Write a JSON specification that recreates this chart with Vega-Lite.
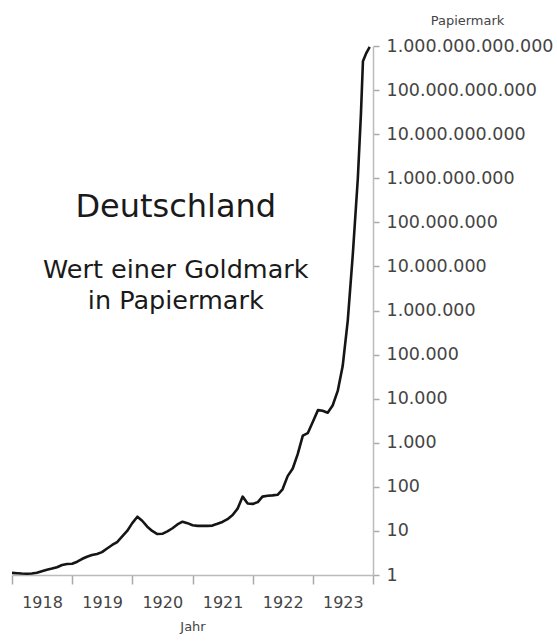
{
  "$schema": "https://vega.github.io/schema/vega-lite/v6.json",
  "autosize": "none",
  "width": 361,
  "height": 529,
  "padding": {"left": 12, "top": 46, "right": 184, "bottom": 66},
  "background": "white",
  "config": {"view": {"stroke": null}, "font": "DejaVu Sans"},
  "datasets": {
    "kurs": [
      {"datum": "1918-01-01", "wert": 1.12},
      {"datum": "1918-02-01", "wert": 1.10},
      {"datum": "1918-03-01", "wert": 1.08},
      {"datum": "1918-04-01", "wert": 1.07},
      {"datum": "1918-05-01", "wert": 1.08},
      {"datum": "1918-06-01", "wert": 1.13},
      {"datum": "1918-07-01", "wert": 1.22},
      {"datum": "1918-08-01", "wert": 1.32},
      {"datum": "1918-09-01", "wert": 1.40},
      {"datum": "1918-10-01", "wert": 1.50},
      {"datum": "1918-11-01", "wert": 1.68},
      {"datum": "1918-12-01", "wert": 1.78},
      {"datum": "1919-01-01", "wert": 1.80},
      {"datum": "1919-02-01", "wert": 2.0},
      {"datum": "1919-03-01", "wert": 2.3},
      {"datum": "1919-04-01", "wert": 2.6},
      {"datum": "1919-05-01", "wert": 2.85},
      {"datum": "1919-06-01", "wert": 3.0},
      {"datum": "1919-07-01", "wert": 3.3},
      {"datum": "1919-08-01", "wert": 4.0},
      {"datum": "1919-09-01", "wert": 4.8},
      {"datum": "1919-10-01", "wert": 5.6},
      {"datum": "1919-11-01", "wert": 7.5},
      {"datum": "1919-12-01", "wert": 10},
      {"datum": "1920-01-01", "wert": 15},
      {"datum": "1920-02-01", "wert": 21},
      {"datum": "1920-03-01", "wert": 17},
      {"datum": "1920-04-01", "wert": 12.5},
      {"datum": "1920-05-01", "wert": 10},
      {"datum": "1920-06-01", "wert": 8.5},
      {"datum": "1920-07-01", "wert": 8.6},
      {"datum": "1920-08-01", "wert": 9.8},
      {"datum": "1920-09-01", "wert": 11.5},
      {"datum": "1920-10-01", "wert": 14},
      {"datum": "1920-11-01", "wert": 16.2},
      {"datum": "1920-12-01", "wert": 15},
      {"datum": "1921-01-01", "wert": 13.5},
      {"datum": "1921-02-01", "wert": 13},
      {"datum": "1921-03-01", "wert": 13},
      {"datum": "1921-04-01", "wert": 13},
      {"datum": "1921-05-01", "wert": 13.2},
      {"datum": "1921-06-01", "wert": 14.5},
      {"datum": "1921-07-01", "wert": 16},
      {"datum": "1921-08-01", "wert": 18.5},
      {"datum": "1921-09-01", "wert": 23},
      {"datum": "1921-10-01", "wert": 32},
      {"datum": "1921-11-01", "wert": 60},
      {"datum": "1921-12-01", "wert": 42},
      {"datum": "1922-01-01", "wert": 41},
      {"datum": "1922-02-01", "wert": 45},
      {"datum": "1922-03-01", "wert": 60},
      {"datum": "1922-04-01", "wert": 63},
      {"datum": "1922-05-01", "wert": 64},
      {"datum": "1922-06-01", "wert": 66},
      {"datum": "1922-07-01", "wert": 88},
      {"datum": "1922-08-01", "wert": 175},
      {"datum": "1922-09-01", "wert": 260},
      {"datum": "1922-10-01", "wert": 550},
      {"datum": "1922-11-01", "wert": 1450},
      {"datum": "1922-12-01", "wert": 1650},
      {"datum": "1923-01-01", "wert": 3000},
      {"datum": "1923-02-01", "wert": 5500},
      {"datum": "1923-03-01", "wert": 5300},
      {"datum": "1923-04-01", "wert": 4800},
      {"datum": "1923-05-01", "wert": 7000},
      {"datum": "1923-06-01", "wert": 15000},
      {"datum": "1923-07-01", "wert": 55000},
      {"datum": "1923-08-01", "wert": 600000},
      {"datum": "1923-09-01", "wert": 20000000},
      {"datum": "1923-10-01", "wert": 1000000000},
      {"datum": "1923-10-20", "wert": 30000000000},
      {"datum": "1923-11-01", "wert": 450000000000},
      {"datum": "1923-11-22", "wert": 700000000000},
      {"datum": "1923-12-12", "wert": 960000000000}
    ]
  },
  "layer": [
    {
      "data": {"name": "kurs"},
      "mark": {"type": "line", "color": "#151515", "strokeWidth": 2.6, "strokeJoin": "round", "clip": false},
      "encoding": {
        "x": {
          "field": "datum",
          "type": "temporal",
          "scale": {"type": "utc", "domain": [{"year": 1918, "month": 1, "date": 1, "utc": true}, {"year": 1924, "month": 1, "date": 1, "utc": true}], "nice": false},
          "axis": {
            "title": "Jahr",
            "values": [
              {"year": 1918, "month": 1, "date": 1, "utc": true},
              {"year": 1919, "month": 1, "date": 1, "utc": true},
              {"year": 1920, "month": 1, "date": 1, "utc": true},
              {"year": 1921, "month": 1, "date": 1, "utc": true},
              {"year": 1922, "month": 1, "date": 1, "utc": true},
              {"year": 1923, "month": 1, "date": 1, "utc": true},
              {"year": 1924, "month": 1, "date": 1, "utc": true}
            ],
            "labelExpr": "utcyear(datum.value) >= 1924 ? '' : '' + utcyear(datum.value)",
            "labelOffset": 30,
            "labelFontSize": 16,
            "labelColor": "#444444",
            "labelPadding": 10,
            "labelFlush": false,
            "labelOverlap": false,
            "tickSize": 9,
            "tickColor": "#aaaaaa",
            "domainColor": "#bbbbbb",
            "domainWidth": 1.5,
            "tickWidth": 1.5,
            "grid": false,
            "titleFontSize": 13,
            "titleFontWeight": "normal",
            "titleColor": "#444444",
            "titlePadding": 10
          }
        },
        "y": {
          "field": "wert",
          "type": "quantitative",
          "scale": {"type": "log", "domain": [1, 1000000000000], "nice": false},
          "axis": {
            "orient": "right",
            "title": "Papiermark",
            "titleAngle": 0,
            "titleAlign": "center",
            "titleBaseline": "alphabetic",
            "titleX": 94,
            "titleY": -22,
            "titleFontSize": 13,
            "titleFontWeight": "normal",
            "titleColor": "#444444",
            "values": [1, 10, 100, 1000, 10000, 100000, 1000000, 10000000, 100000000, 1000000000, 10000000000, 100000000000, 1000000000000],
            "labelExpr": "join(split(format(datum.value, ',d'), ','), '.')",
            "labelFontSize": 17.5,
            "labelColor": "#444444",
            "labelPadding": 7,
            "labelFlush": false,
            "labelOverlap": false,
            "tickSize": 6,
            "tickColor": "#aaaaaa",
            "domainColor": "#bbbbbb",
            "domainWidth": 1.5,
            "tickWidth": 1.5,
            "grid": false
          }
        }
      }
    },
    {
      "data": {"values": [{}]},
      "mark": {"type": "text", "text": "Deutschland", "fontSize": 32, "color": "#1a1a1a", "align": "center", "baseline": "alphabetic"},
      "encoding": {
        "x": {"datum": {"year": 1920, "month": 9, "date": 21, "utc": true}, "type": "temporal"},
        "y": {"datum": 132000000, "type": "quantitative"}
      }
    },
    {
      "data": {"values": [{}]},
      "mark": {"type": "text", "text": "Wert einer Goldmark", "fontSize": 25.5, "color": "#1a1a1a", "align": "center", "baseline": "alphabetic"},
      "encoding": {
        "x": {"datum": {"year": 1920, "month": 9, "date": 21, "utc": true}, "type": "temporal"},
        "y": {"datum": 5470000, "type": "quantitative"}
      }
    },
    {
      "data": {"values": [{}]},
      "mark": {"type": "text", "text": "in Papiermark", "fontSize": 25.5, "color": "#1a1a1a", "align": "center", "baseline": "alphabetic"},
      "encoding": {
        "x": {"datum": {"year": 1920, "month": 9, "date": 21, "utc": true}, "type": "temporal"},
        "y": {"datum": 1080000, "type": "quantitative"}
      }
    }
  ]
}
